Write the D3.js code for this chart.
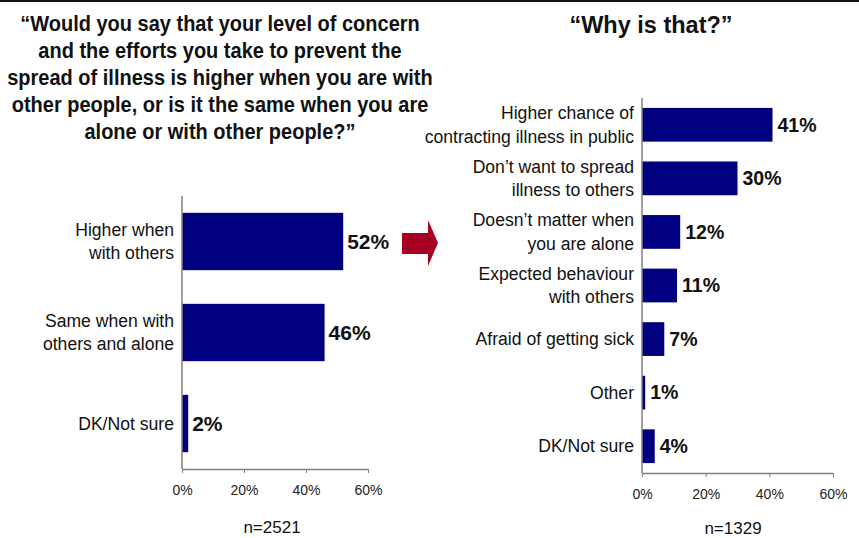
<!DOCTYPE html>
<html>
<head>
<meta charset="utf-8">
<script src="https://cdn.jsdelivr.net/npm/d3@7"></script>
<style>
  html, body { margin: 0; padding: 0; background: #fff; }
  svg { display: block; font-family: "Liberation Sans", Arial, sans-serif; }
</style>
</head>
<body>
<svg id="chart" width="859" height="538"></svg>
<script>
// Question 1: level of concern with others vs alone
const leftCategories = [["Higher when", "with others"], ["Same when with", "others and alone"], ["DK/Not sure"]];
const leftValues = [52, 46, 2];
const leftN = "n=2521";
const leftTitle = [
  "\u201cWould you say that your level of concern",
  "and the efforts you take to prevent the",
  "spread of illness is higher when you are with",
  "other people, or is it the same when you are",
  "alone or with other people?\u201d"
];

// Question 2: reasons given by those answering "higher"
const rightCategories = [
  ["Higher chance of", "contracting illness in public"],
  ["Don\u2019t want to spread", "illness to others"],
  ["Doesn\u2019t matter when", "you are alone"],
  ["Expected behaviour", "with others"],
  ["Afraid of getting sick"],
  ["Other"],
  ["DK/Not sure"]
];
const rightValues = [41, 30, 12, 11, 7, 1, 4];
const rightN = "n=1329";
const rightTitle = ["\u201cWhy is that?\u201d"];

const tickValues = [0, 20, 40, 60];

const svg = d3.select("#chart");
const BAR = "#000080";
const AXIS = "#7f7f7f";

// rule across the top edge
svg.append("rect").attr("x", 0).attr("y", 0).attr("width", 859).attr("height", 2).attr("fill", "#111");

function drawPanel(cfg) {
  const x = d3.scaleLinear().domain([0, 60]).range([cfg.x0, cfg.x1]);
  const idx = cfg.values.map((d, i) => i);
  const y = d3.scaleBand().domain(idx).range([cfg.y0, cfg.y1])
    .paddingInner(0.37).paddingOuter(0.185);
  const g = svg.append("g");

  g.selectAll("rect.bar").data(idx).enter().append("rect")
    .attr("class", "bar")
    .attr("x", x(0))
    .attr("y", i => y(i))
    .attr("width", i => x(cfg.values[i]) - x(0))
    .attr("height", y.bandwidth())
    .attr("fill", BAR);

  // value labels
  g.selectAll("text.val").data(idx).enter().append("text")
    .attr("class", "val")
    .attr("x", i => x(cfg.values[i]) + cfg.valGap)
    .attr("y", i => y(i) + y.bandwidth() / 2)
    .attr("dy", "0.35em")
    .attr("font-size", cfg.valSize)
    .attr("font-weight", "bold")
    .attr("fill", "#111")
    .text(i => cfg.values[i] + "%");

  // category labels
  g.selectAll("text.cat").data(idx).enter().append("text")
    .attr("class", "cat")
    .attr("x", x(0) - 8)
    .attr("y", i => y(i) + y.bandwidth() / 2)
    .attr("text-anchor", "end")
    .attr("font-size", cfg.catSize)
    .attr("fill", "#111")
    .each(function (i) {
      const lines = cfg.cats[i];
      const t = d3.select(this);
      lines.forEach((ln, k) => {
        t.append("tspan")
          .attr("x", x(0) - 8)
          .attr("dy", k === 0 ? (0.35 * cfg.catSize - (lines.length - 1) * cfg.lineH / 2) + "px" : cfg.lineH + "px")
          .text(ln);
      });
    });

  // axes
  const xAxis = d3.axisBottom(x).tickValues(tickValues).tickFormat(d => d + "%")
    .tickSizeInner(4).tickSizeOuter(0).tickPadding(12);
  const ax = g.append("g").attr("transform", `translate(0,${cfg.y1})`).call(xAxis);
  ax.select(".domain").attr("stroke", AXIS).attr("stroke-width", 1.5);
  ax.selectAll(".tick line").attr("stroke", AXIS);
  ax.selectAll(".tick text").attr("font-size", 14).attr("fill", "#222")
    .attr("font-family", "\"Liberation Sans\", Arial, sans-serif");

  g.append("line")
    .attr("x1", x(0)).attr("x2", x(0))
    .attr("y1", cfg.y0).attr("y2", cfg.y1)
    .attr("stroke", AXIS).attr("stroke-width", 1.5);

  g.append("text")
    .attr("x", cfg.nX).attr("y", cfg.nY)
    .attr("text-anchor", "middle")
    .attr("font-size", 17)
    .attr("fill", "#111")
    .text(cfg.n);
}

drawPanel({
  cats: leftCategories, values: leftValues, n: leftN,
  x0: 182, x1: 368, y0: 196, y1: 469,
  catSize: 17.6, lineH: 23.5, valSize: 21, valGap: 4,
  nX: 272, nY: 533
});

drawPanel({
  cats: rightCategories, values: rightValues, n: rightN,
  x0: 642, x1: 833, y0: 98, y1: 473,
  catSize: 17.6, lineH: 23.5, valSize: 19.5, valGap: 5,
  nX: 733, nY: 534
});

// titles (question text is set slightly condensed: stretched vertically)
const stretch = 1.1;
const lt = svg.append("text").attr("text-anchor", "middle")
  .attr("transform", `scale(1,${stretch})`)
  .attr("font-size", 20).attr("font-weight", "bold").attr("fill", "#111");
leftTitle.forEach((ln, k) => {
  lt.append("tspan").attr("x", 220).attr("y", (31.5 + k * 27) / stretch).text(ln);
});
svg.append("text").attr("x", 651).attr("y", 33).attr("text-anchor", "middle")
  .attr("font-size", 23.5).attr("font-weight", "bold").attr("fill", "#111")
  .text(rightTitle[0]);

// arrow pointing from the first answer to the follow-up
const arrow = [[402, 233], [428, 233], [428, 220], [438, 243], [428, 266], [428, 254], [402, 254]];
svg.append("path").attr("d", d3.line()(arrow) + "Z").attr("fill", "#a50021");
</script>
</body>
</html>
